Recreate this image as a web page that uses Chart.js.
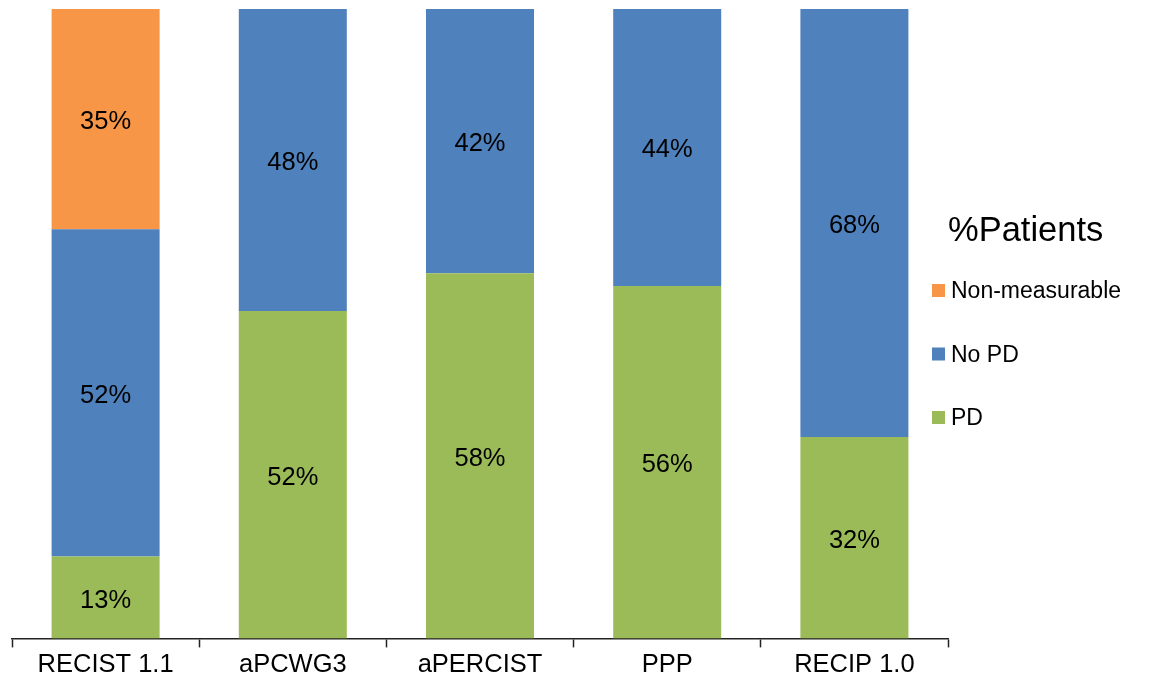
<!DOCTYPE html>
<html>
<head>
<meta charset="utf-8">
<script src="https://cdn.jsdelivr.net/npm/chart.js@4/dist/chart.umd.min.js"></script>
<style>
  html, body { margin: 0; padding: 0; background: #fff; }
  #wrap { width: 1153px; height: 682px; position: relative; }
</style>
</head>
<body>
<div id="wrap"><canvas id="c"></canvas></div>
<script>
// Response assessment criteria and share of patients per outcome
const categories = ['RECIST 1.1', 'aPCWG3', 'aPERCIST', 'PPP', 'RECIP 1.0'];
const pdValues = [13, 52, 58, 56, 32];
const noPdValues = [52, 48, 42, 44, 68];
const nonMeasurableValues = [35, 0, 0, 0, 0];
const legendTitle = '%Patients';

const FONT = '"Liberation Sans", Arial, sans-serif';
const COLORS = { pd: '#9BBB59', noPd: '#4F81BD', nonMeas: '#F79646' };

// Percentage labels centred inside every non-empty segment
const segmentLabels = {
  id: 'segmentLabels',
  afterDatasetsDraw(chart) {
    const ctx = chart.ctx;
    ctx.save();
    ctx.font = '25.5px ' + FONT;
    ctx.fillStyle = '#000';
    ctx.textAlign = 'center';
    ctx.textBaseline = 'middle';
    chart.data.datasets.forEach((ds, i) => {
      const meta = chart.getDatasetMeta(i);
      meta.data.forEach((bar, j) => {
        const v = ds.data[j];
        if (!v) return;
        const mid = (bar.y + bar.base) / 2;
        ctx.fillText(v + '%', bar.x, mid + 3);
      });
    });
    ctx.restore();
  }
};

// Legend at the right, listed top-down in stacking order
const sideLegend = {
  id: 'sideLegend',
  afterDraw(chart) {
    const ctx = chart.ctx;
    const area = chart.chartArea;
    const x0 = area.right - 16;
    ctx.save();
    ctx.fillStyle = '#000';
    ctx.textBaseline = 'middle';
    ctx.textAlign = 'left';
    ctx.font = '34.5px ' + FONT;
    ctx.fillText(legendTitle, area.right, 231);
    ctx.font = '23px ' + FONT;
    const items = chart.data.datasets.slice().reverse();
    items.forEach((ds, k) => {
      const y = 291 + k * 63.5;
      ctx.fillStyle = ds.backgroundColor;
      ctx.fillRect(x0, y - 7, 13, 13);
      ctx.fillStyle = '#000';
      ctx.fillText(ds.label, x0 + 19, y + 1);
    });
    ctx.restore();
  }
};

new Chart(document.getElementById('c'), {
  type: 'bar',
  data: {
    labels: categories,
    datasets: [
      { label: 'PD', data: pdValues, backgroundColor: COLORS.pd },
      { label: 'No PD', data: noPdValues, backgroundColor: COLORS.noPd },
      { label: 'Non-measurable', data: nonMeasurableValues, backgroundColor: COLORS.nonMeas }
    ]
  },
  options: {
    responsive: true,
    maintainAspectRatio: false,
    animation: false,
    layout: { padding: { left: 12, right: 205, top: 9, bottom: 0 } },
    plugins: {
      legend: { display: false },
      tooltip: { enabled: false }
    },
    datasets: {
      bar: { categoryPercentage: 1.0, barPercentage: 0.577, borderWidth: 0 }
    },
    scales: {
      x: {
        stacked: true,
        offset: true,
        grid: {
          offset: true,
          drawOnChartArea: false,
          drawTicks: true,
          tickLength: 9,
          tickColor: '#222',
          tickWidth: 1.5
        },
        border: { display: true, color: '#222', width: 1.5 },
        ticks: {
          color: '#000',
          font: { family: FONT, size: 25.5 },
          padding: 2,
          maxRotation: 0
        }
      },
      y: {
        stacked: true,
        display: false,
        min: 0,
        max: 100
      }
    }
  },
  plugins: [segmentLabels, sideLegend]
});
</script>
</body>
</html>
